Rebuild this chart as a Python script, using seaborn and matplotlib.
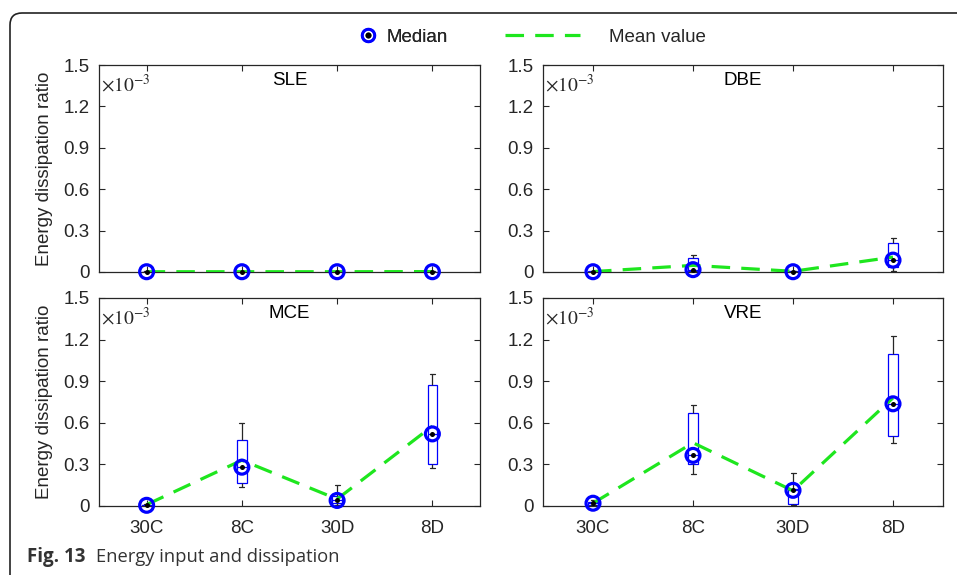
import numpy as np
import pandas as pd
import matplotlib
matplotlib.use("Agg")
import matplotlib.pyplot as plt
import seaborn as sns
from matplotlib.lines import Line2D
from matplotlib.patches import FancyBboxPatch
from matplotlib.transforms import IdentityTransform
from matplotlib.legend_handler import HandlerTuple

# ---------------- data (values in units of 1e-3) ----------------
categories = ["30C", "8C", "30D", "8D"]
panels = ["SLE", "DBE", "MCE", "VRE"]

sle_lo = [0.000, 0.000, 0.000, 0.000]
sle_q1 = [0.001, 0.001, 0.001, 0.001]
sle_med = [0.002, 0.002, 0.002, 0.002]
sle_q3 = [0.003, 0.003, 0.003, 0.003]
sle_hi = [0.004, 0.004, 0.004, 0.004]
sle_mean = [0.002, 0.002, 0.002, 0.003]

dbe_lo = [0.000, 0.005, 0.000, 0.010]
dbe_q1 = [0.001, 0.010, 0.001, 0.035]
dbe_med = [0.002, 0.017, 0.002, 0.086]
dbe_q3 = [0.004, 0.100, 0.004, 0.210]
dbe_hi = [0.006, 0.125, 0.006, 0.245]
dbe_mean = [0.003, 0.048, 0.005, 0.108]

mce_lo = [0.000, 0.140, 0.010, 0.274]
mce_q1 = [0.002, 0.168, 0.020, 0.300]
mce_med = [0.005, 0.280, 0.040, 0.520]
mce_q3 = [0.010, 0.478, 0.070, 0.874]
mce_hi = [0.015, 0.600, 0.155, 0.953]
mce_mean = [0.010, 0.330, 0.050, 0.576]

vre_lo = [0.005, 0.228, 0.010, 0.451]
vre_q1 = [0.010, 0.305, 0.017, 0.506]
vre_med = [0.020, 0.365, 0.113, 0.737]
vre_q3 = [0.030, 0.674, 0.120, 1.094]
vre_hi = [0.040, 0.730, 0.240, 1.224]
vre_mean = [0.020, 0.456, 0.110, 0.780]

y_ticks = [0, 0.3, 0.6, 0.9, 1.2, 1.5]
y_ticklabels = ["0", "0.3", "0.6", "0.9", "1.2", "1.5"]

panel_data = {
    "SLE": (sle_lo, sle_q1, sle_med, sle_q3, sle_hi, sle_mean),
    "DBE": (dbe_lo, dbe_q1, dbe_med, dbe_q3, dbe_hi, dbe_mean),
    "MCE": (mce_lo, mce_q1, mce_med, mce_q3, mce_hi, mce_mean),
    "VRE": (vre_lo, vre_q1, vre_med, vre_q3, vre_hi, vre_mean),
}

# ---------------- style ----------------
sns.set_style("ticks")
plt.rcParams["font.family"] = ["Liberation Sans", "DejaVu Sans"]
plt.rcParams["mathtext.fontset"] = "stix"
DARK = "#262626"
GREEN = "#1ee61e"
FS = 13.5

W, H = 957, 575
fig = plt.figure(figsize=(W / 100, H / 100), dpi=100)

def frac_box(x0, x1, ytop, ybot):
    return [x0 / W, 1 - ybot / H, (x1 - x0) / W, (ybot - ytop) / H]

positions = {
    "SLE": frac_box(99, 480, 65, 272),
    "DBE": frac_box(543, 943, 65, 272),
    "MCE": frac_box(99, 480, 298, 506),
    "VRE": frac_box(543, 943, 298, 506),
}

xpos = np.arange(len(categories))

for i, name in enumerate(panels):
    lo, q1, med, q3, hi, mean = panel_data[name]
    ax = fig.add_axes(positions[name])
    df = pd.DataFrame({
        "cat": np.repeat(categories, 5),
        "val": np.column_stack([lo, q1, med, q3, hi]).ravel(),
    })
    sns.boxplot(data=df, x="cat", y="val", order=categories, width=0.1,
                whis=(0, 100), color="white", linecolor="blue", linewidth=0.9,
                showfliers=False, whiskerprops=dict(color=DARK),
                capprops=dict(color=DARK), medianprops=dict(color="blue"),
                ax=ax)
    sns.lineplot(x=xpos, y=mean, color=GREEN, linewidth=2.3,
                 linestyle=(0, (5.8, 3.5)), ax=ax, zorder=3)
    sns.scatterplot(x=xpos, y=med, s=100, facecolor="none", edgecolor="blue",
                    linewidth=2.3, ax=ax, zorder=4, clip_on=False)
    sns.scatterplot(x=xpos, y=med, s=13, color="black", linewidth=0,
                    ax=ax, zorder=5, clip_on=False)

    ax.set_xlim(-0.5, len(categories) - 0.5)
    ax.set_ylim(0, 1.5)
    ax.set_yticks(y_ticks)
    ax.set_yticklabels(y_ticklabels)
    ax.set_xticks(xpos)
    ax.set_xticklabels(categories)
    ax.set_xlabel("")
    ax.set_ylabel("")
    ax.tick_params(direction="in", length=4, width=0.8, top=True, right=True,
                   labelsize=FS, colors=DARK)
    ax.tick_params(axis="x", pad=10)
    ax.tick_params(axis="y", pad=7)
    if i < 2:
        ax.tick_params(labelbottom=False)
    for sp in ax.spines.values():
        sp.set_visible(True)
        sp.set_color(DARK)
        sp.set_linewidth(0.9)
    ax.text(0.5, 0.925, name, transform=ax.transAxes, ha="center", va="center",
            fontsize=FS, color="black")
    ax.text(0.006, 0.905, r"$\times10^{-3}$", transform=ax.transAxes,
            ha="left", va="center", fontsize=14, color=DARK)
    if i % 2 == 0:
        ax.set_ylabel("Energy dissipation ratio", fontsize=FS, color=DARK)
        ax.yaxis.set_label_coords(-0.122, 0.5)

# ---------------- legend ----------------
fs_px = FS * 100 / 72
h_med = (Line2D([], [], marker="o", ls="none", markersize=9.0, markerfacecolor="none",
                markeredgecolor="blue", markeredgewidth=2.0),
         Line2D([], [], marker="o", ls="none", markersize=3.2, color="black"))
leg1 = fig.legend([h_med], ["Median"], loc="center left",
                  bbox_to_anchor=((368 - 0.4 * fs_px) / W, 1 - 37 / H),
                  frameon=False, borderpad=0, borderaxespad=0,
                  handlelength=0.8, handletextpad=0.6, fontsize=FS,
                  handler_map={tuple: HandlerTuple(ndivide=1)})
fig.add_artist(leg1)
h_mean = Line2D([], [], color=GREEN, linewidth=2.3, linestyle=(0, (5.8, 3.5)))
fig.legend([h_mean], ["Mean value"], loc="center left",
           bbox_to_anchor=(505 / W, 1 - 37 / H), frameon=False, borderpad=0,
           borderaxespad=0, handlelength=4.0, handletextpad=1.55, fontsize=FS)

# ---------------- frame and caption ----------------
frame = FancyBboxPatch((10, -60), 1000, H - 13 + 60,
                       boxstyle="round,pad=0,rounding_size=12",
                       transform=IdentityTransform(), facecolor="none",
                       edgecolor="#222222", linewidth=1.2)
fig.add_artist(frame)
fig.text(27 / W, 1 - 557 / H, "Fig. 13", fontsize=13.5, fontweight="bold",
         family=["Open Sans", "DejaVu Sans"], color="#333333", ha="left", va="center")
fig.text(96 / W, 1 - 557 / H, "Energy input and dissipation", fontsize=13.2,
         family=["Open Sans", "DejaVu Sans"], color="#333333", ha="left", va="center")

fig.savefig("out.png", dpi=100)
